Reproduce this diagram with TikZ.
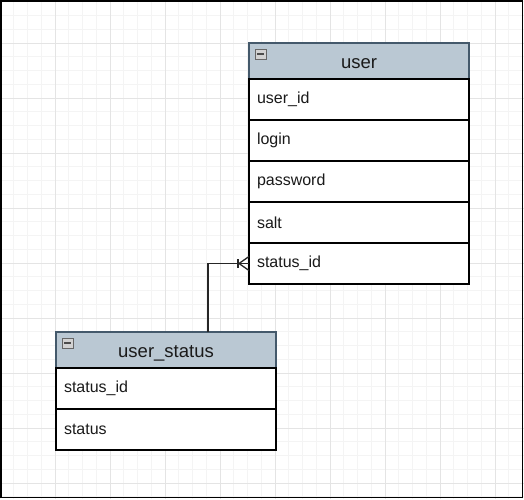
\documentclass[tikz,border=0pt]{standalone}
\usepackage{fontspec}
\setmainfont{Liberation Sans}
\usepackage{tikz}
\usetikzlibrary{positioning}

\definecolor{headfill}{HTML}{BAC8D3}
\definecolor{headline}{HTML}{44596B}
\definecolor{gridminor}{HTML}{F4F4F4}
\definecolor{gridmajor}{HTML}{E4E4E4}
\definecolor{txt}{HTML}{1A1A1A}

\tikzset{
  tblhead/.style={draw=headline, fill=headfill, line width=1.2pt, minimum width=220pt,
    minimum height=36pt, inner sep=0pt, outer sep=0pt, text=txt,
    text height=14pt, text depth=0pt,
    font=\fontsize{18.5}{22}\selectfont},
  tblrow/.style={draw=black, fill=white, line width=1.3pt, minimum width=220pt,
    minimum height=41pt, inner xsep=8pt, inner ysep=0pt, outer sep=0pt,
    text width=204pt, align=left, text=txt, font=\fontsize{16}{19}\selectfont},
  collapse/.style={draw=gray!80!black, fill=gray!35, line width=0.6pt,
    minimum width=11pt, minimum height=10pt, inner sep=0pt, outer sep=0pt},
  relation/.style={draw=black!85, line width=1.3pt}
}
\newcommand{\Icon}[2]{%
  \node[collapse, anchor=north west] (#2) at ([xshift=6pt,yshift=-6pt]#1.north west) {};
  \draw[black!70, line width=1.6pt] ([xshift=2pt]#2.west) -- ([xshift=-2pt]#2.east);}

\begin{document}
\begin{tikzpicture}[x=1pt,y=1pt]
		\useasboundingbox (0,0) rectangle (524,-499);

		% Grid
		\foreach \i in {0,...,38}
			\draw[gridminor, line width=0.6pt] (\i*13.75,0) -- (\i*13.75,-499);
		\foreach \j in {0,...,36}
			\draw[gridminor, line width=0.6pt] (0,-1.75-\j*13.75) -- (524,-1.75-\j*13.75);
		\foreach \i in {1,...,9}
			\draw[gridmajor, line width=0.8pt] (\i*55,0) -- (\i*55,-499);
		\foreach \j in {0,...,8}
			\draw[gridmajor, line width=0.8pt] (0,-43-\j*55) -- (524,-43-\j*55);

		% Define nodes
		\node[tblhead] (user) at (359,-61) {user};
		\node[tblrow, below=0pt of user] (userid) {user\_id};
		\node[tblrow, below=0pt of userid] (login) {login};
		\node[tblrow, below=0pt of login] (password) {password};
		\node[tblrow, below=0pt of password] (salt) {salt};
		\node[tblrow, below=0pt of salt] (statusid) {status\_id};
		\Icon{user}{usericon}

		\node[tblhead] (ustatus) at (166,-350) {user\_status};
		\node[tblrow, below=0pt of ustatus] (ustatusid) {status\_id};
		\node[tblrow, below=0pt of ustatusid] (ustatusval) {status};
		\Icon{ustatus}{ustatusicon}

		% Connect the nodes
		\draw[relation] ([xshift=42pt]ustatus.north) |- (statusid.west);
		\draw[relation] ([xshift=-11pt,yshift=4.5pt]statusid.west) -- ([xshift=-11pt,yshift=-4.5pt]statusid.west);
		\draw[relation] ([yshift=7pt]statusid.west) -- ([xshift=-10pt]statusid.west) -- ([yshift=-7pt]statusid.west);

		% Frame
		\draw[black, line width=1.5pt] (0.75,-0.75) rectangle (522.5,-497.5);
	\end{tikzpicture}
\end{document}
